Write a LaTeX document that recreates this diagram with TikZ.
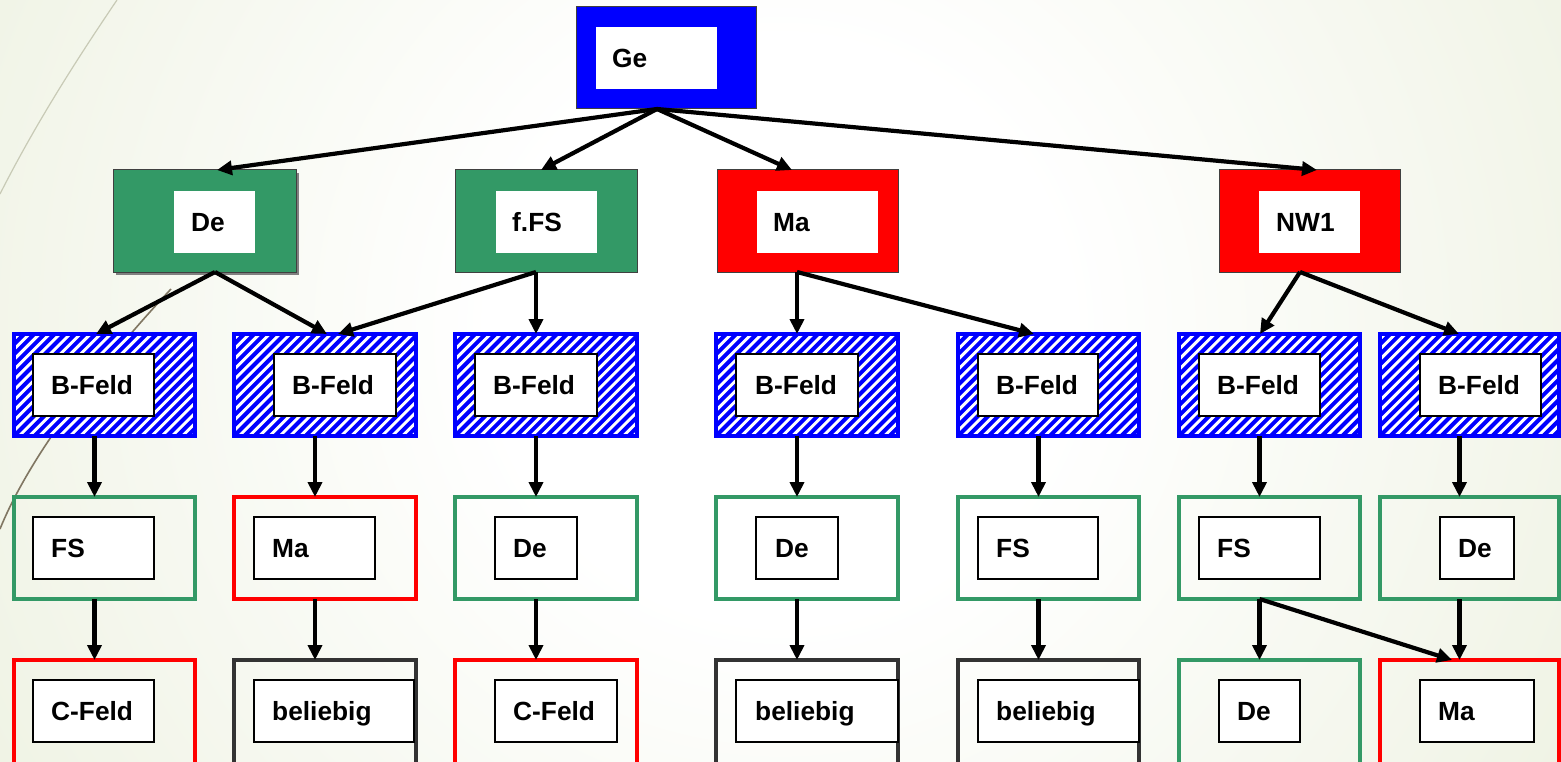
\documentclass[tikz,border=0pt]{standalone}
\usepackage{fontspec}
\setmainfont{Liberation Sans}
\usetikzlibrary{arrows.meta,calc}
\definecolor{gG}{RGB}{51,153,102}
\definecolor{bB}{RGB}{0,0,255}
\definecolor{rR}{RGB}{255,0,0}
\definecolor{dK}{RGB}{51,51,51}
\definecolor{bgG}{RGB}{224,231,202}
\definecolor{lineL}{RGB}{200,202,182}
\definecolor{lineB}{RGB}{128,118,98}
\pgfdeclareradialshading{bgshade}{\pgfpoint{0bp}{0bp}}{color(0bp)=(white); color(8bp)=(white); color(42bp)=(bgG); color(50bp)=(bgG)}
\newcommand{\rbox}[6]{\node[#2, minimum width={#4-#3}, minimum height={#6-#5}] (#1) at ({(#3+#4)/2},{(#5+#6)/2}) {};}
\newcommand{\lbl}[4]{\node[lbltext] (#1) at (#2,#3) {#4};}
\tikzset{
  box/.style={rectangle, inner sep=0pt, outer sep=0pt},
  topbox/.style={box, draw=black!75, line width=1pt, fill=#1},
  shadowbox/.style={box, fill=black!50},
  whitein/.style={box, fill=white},
  inbox/.style={box, fill=white, draw=black, line width=1.4pt},
  hatchbox/.style={box, fill=white, draw=bB, line width=4.4pt,
    path picture={\foreach \k in {-12,...,20}{\draw[bB, line width=4pt] ([xshift=\k*10.2pt]path picture bounding box.south west) -- ++(130pt,130pt);}}},
  framebox/.style={box, draw=#1, line width=4.4pt},
  lbltext/.style={anchor=base west, inner sep=0pt, font=\fontsize{26.3}{30}\selectfont\bfseries},
  arr/.style={line width=4.2pt, -{Triangle[length=15pt,width=14pt]}},
}
\begin{document}
\begin{tikzpicture}[x=1pt,y=-1pt]
\useasboundingbox (0,0) rectangle (1561,762);
\clip (0,0) rectangle (1561,762);
% background
\fill[bgG] (0,0) rectangle (1561,762);
\shade[shading=bgshade] (780,330) circle (900pt);
\draw[lineL, line width=1.2pt] (117,0) .. controls (75,62) and (35,125) .. (0,194);
\draw[lineB, line width=1.6pt] (171,289) .. controls (100,365) and (30,455) .. (0,529);
% top
\rbox{ge}{topbox=bB}{576}{756}{7}{109}
\rbox{gei}{whitein}{596}{717}{27}{89}
\lbl{tge}{612}{67.5}{Ge}
% level 1
\rbox{desh}{shadowbox}{116}{299}{173}{275}
\rbox{de}{topbox=gG}{113}{296}{170}{272}
\rbox{dei}{whitein}{174}{255}{191}{253}
\lbl{tde}{191}{231.5}{De}
\rbox{ffs}{topbox=gG}{455}{637}{170}{272}
\rbox{ffsi}{whitein}{496}{597}{191}{253}
\lbl{tffs}{512}{231.5}{f.FS}
\rbox{ma}{topbox=rR}{717}{898}{170}{272}
\rbox{mai}{whitein}{757}{878}{191}{253}
\lbl{tma}{773}{231.5}{Ma}
\rbox{nw}{topbox=rR}{1219}{1400}{170}{272}
\rbox{nwi}{whitein}{1259}{1360}{191}{253}
\lbl{tnw}{1276}{231.5}{NW1}
% level 2
\rbox{b1}{hatchbox}{14}{195}{334}{436}
\rbox{b1i}{inbox}{33}{154}{354}{416}
\lbl{tb1}{51}{394.5}{B-Feld}
\rbox{b2}{hatchbox}{234}{416}{334}{436}
\rbox{b2i}{inbox}{274}{396}{354}{416}
\lbl{tb2}{292}{394.5}{B-Feld}
\rbox{b3}{hatchbox}{455}{637}{334}{436}
\rbox{b3i}{inbox}{475}{597}{354}{416}
\lbl{tb3}{493}{394.5}{B-Feld}
\rbox{b4}{hatchbox}{716}{898}{334}{436}
\rbox{b4i}{inbox}{736}{858}{354}{416}
\lbl{tb4}{755}{394.5}{B-Feld}
\rbox{b5}{hatchbox}{958}{1139}{334}{436}
\rbox{b5i}{inbox}{978}{1098}{354}{416}
\lbl{tb5}{996}{394.5}{B-Feld}
\rbox{b6}{hatchbox}{1179}{1360}{334}{436}
\rbox{b6i}{inbox}{1199}{1320}{354}{416}
\lbl{tb6}{1217}{394.5}{B-Feld}
\rbox{b7}{hatchbox}{1380}{1559}{334}{436}
\rbox{b7i}{inbox}{1420}{1541}{354}{416}
\lbl{tb7}{1438}{394.5}{B-Feld}
% level 3
\rbox{c1}{framebox=gG}{14}{195}{497}{599}
\rbox{c1i}{inbox}{33}{154}{517}{579}
\lbl{tc1}{51}{557.5}{FS}
\rbox{c2}{framebox=rR}{234}{416}{497}{599}
\rbox{c2i}{inbox}{254}{375}{517}{579}
\lbl{tc2}{272}{557.5}{Ma}
\rbox{c3}{framebox=gG}{455}{637}{497}{599}
\rbox{c3i}{inbox}{495}{577}{517}{579}
\lbl{tc3}{513}{557.5}{De}
\rbox{c4}{framebox=gG}{716}{898}{497}{599}
\rbox{c4i}{inbox}{756}{838}{517}{579}
\lbl{tc4}{775}{557.5}{De}
\rbox{c5}{framebox=gG}{958}{1139}{497}{599}
\rbox{c5i}{inbox}{978}{1098}{517}{579}
\lbl{tc5}{996}{557.5}{FS}
\rbox{c6}{framebox=gG}{1179}{1360}{497}{599}
\rbox{c6i}{inbox}{1199}{1320}{517}{579}
\lbl{tc6}{1217}{557.5}{FS}
\rbox{c7}{framebox=gG}{1380}{1559}{497}{599}
\rbox{c7i}{inbox}{1440}{1514}{517}{579}
\lbl{tc7}{1458}{557.5}{De}
% level 4
\rbox{d1}{framebox=rR}{14}{195}{660}{780}
\rbox{d1i}{inbox}{33}{154}{680}{742}
\lbl{td1}{51}{720.5}{C-Feld}
\rbox{d2}{framebox=dK}{234}{416}{660}{780}
\rbox{d2i}{inbox}{254}{414}{680}{742}
\lbl{td2}{272}{720.5}{beliebig}
\rbox{d3}{framebox=rR}{455}{637}{660}{780}
\rbox{d3i}{inbox}{495}{617}{680}{742}
\lbl{td3}{513}{720.5}{C-Feld}
\rbox{d4}{framebox=dK}{716}{898}{660}{780}
\rbox{d4i}{inbox}{736}{898}{680}{742}
\lbl{td4}{755}{720.5}{beliebig}
\rbox{d5}{framebox=dK}{958}{1139}{660}{780}
\rbox{d5i}{inbox}{978}{1139}{680}{742}
\lbl{td5}{996}{720.5}{beliebig}
\rbox{d6}{framebox=gG}{1179}{1360}{660}{780}
\rbox{d6i}{inbox}{1219}{1300}{680}{742}
\lbl{td6}{1237}{720.5}{De}
\rbox{d7}{framebox=rR}{1380}{1559}{660}{780}
\rbox{d7i}{inbox}{1420}{1534}{680}{742}
\lbl{td7}{1438}{720.5}{Ma}
% connectors: top
\draw[arr] ([xshift=-9pt]ge.south) -- ([xshift=12.5pt]de.north);
\draw[arr] ([xshift=-9pt]ge.south) -- ([xshift=-5pt]ffs.north);
\draw[arr] ([xshift=-9pt]ge.south) -- ([xshift=-15.5pt]ma.north);
\draw[arr] ([xshift=-9pt]ge.south) -- ([xshift=7.5pt]nw.north);
% level 1 -> 2
\draw[arr] ([xshift=10.5pt]de.south) -- ([xshift=-8.5pt]b1.north);
\draw[arr] ([xshift=10.5pt]de.south) -- ([xshift=2pt]b2.north);
\draw[arr] ([xshift=-10pt]ffs.south) -- ([xshift=13pt]b2.north);
\draw[arr] ([xshift=-10pt]ffs.south) -- ([xshift=-10pt]b3.north);
\draw[arr] ([xshift=-10.5pt]ma.south) -- ([xshift=-10pt]b4.north);
\draw[arr] ([xshift=-10.5pt]ma.south) -- ([xshift=-14.5pt]b5.north);
\draw[arr] ([xshift=-9.5pt]nw.south) -- ([xshift=-9.5pt]b6.north);
\draw[arr] ([xshift=-9.5pt]nw.south) -- ([xshift=-10.5pt]b7.north);
% level 2 -> 3 and 3 -> 4
\foreach \i in {1,...,7}{
  \draw[arr] ([xshift=-10pt]b\i.south) -- ([xshift=-10pt]c\i.north);
}
\foreach \i in {1,...,7}{
  \draw[arr] ([xshift=-10pt]c\i.south) -- ([xshift=-10pt]d\i.north);
}
\draw[arr] ([xshift=-10pt]c6.south) -- ([xshift=-17.5pt]d7.north);
\end{tikzpicture}
\end{document}
